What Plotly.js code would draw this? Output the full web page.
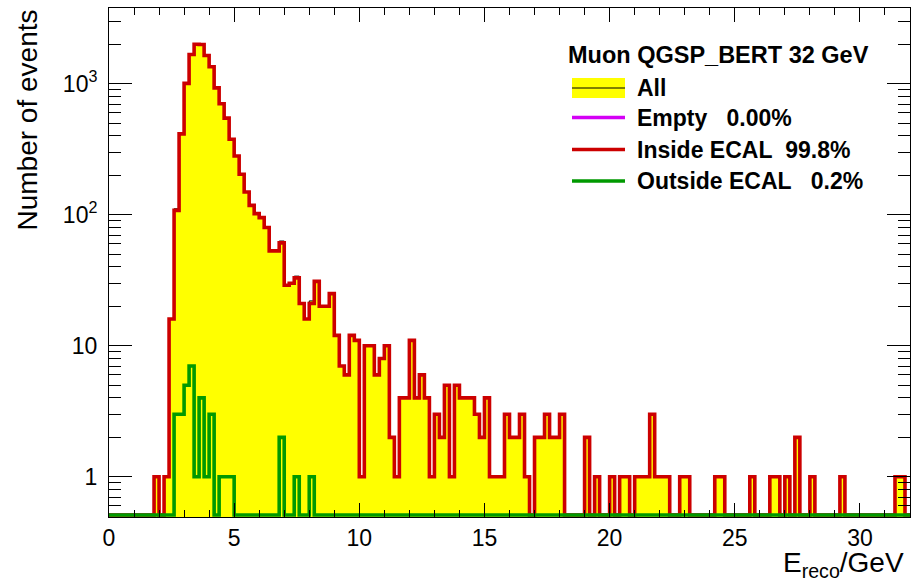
<!DOCTYPE html>
<html>
<head>
<meta charset="utf-8">
<title>Muon QGSP_BERT 32 GeV - reconstructed energy</title>
<script src="https://cdn.plot.ly/plotly-3.0.1.min.js"></script>
<style>
  html, body { margin: 0; padding: 0; background: #ffffff; }
  #chart { width: 913px; height: 582px; }
</style>
</head>
<body>
<div id="chart"></div>
<script>
// Histogram binning: 160 bins of 0.2 GeV between 0 and 32 GeV
const binWidth = 0.2;
const nBins = 160;

// Events per bin, reconstructed inside the ECAL
const insideEcal = [
  0, 0, 0, 0, 0, 0, 0, 0, 0, 1, 0, 1, 16, 108, 414, 1006, 1672, 2000, 1990, 1643,
  1346, 929, 703, 546, 377, 281, 204, 149, 118, 102, 95, 80, 53, 53, 61, 29, 30, 33, 21, 16,
  21, 31, 20, 20, 25, 12, 7, 6, 12, 11, 1, 10, 10, 6, 8, 10, 2, 1, 4, 4,
  11, 4, 6, 4, 1, 3, 2, 5, 1, 5, 4, 4, 4, 3, 2, 4, 1, 1, 1, 3,
  2, 2, 3, 1, 0, 2, 2, 3, 2, 2, 3, 0, 0, 0, 0, 2, 0, 1, 0, 0,
  1, 0, 1, 1, 0, 1, 1, 1, 3, 1, 1, 1, 0, 0, 1, 1, 0, 0, 0, 0,
  0, 1, 1, 0, 0, 0, 0, 0, 1, 0, 0, 0, 1, 1, 0, 1, 0, 2, 0, 0,
  1, 0, 0, 0, 0, 0, 1, 0, 0, 0, 0, 0, 0, 0, 0, 0, 0, 1, 1, 0
];

// Events per bin, reconstructed outside the ECAL
const outsideEcal = [
  0, 0, 0, 0, 0, 0, 0, 0, 0, 0, 0, 0, 0, 3, 3, 5, 7, 1, 4, 1,
  3, 0, 1, 1, 1, 0, 0, 0, 0, 0, 0, 0, 0, 0, 2, 0, 0, 1, 0, 0,
  1, 0, 0, 0, 0, 0, 0, 0, 0, 0, 0, 0, 0, 0, 0, 0, 0, 0, 0, 0,
  0, 0, 0, 0, 0, 0, 0, 0, 0, 0, 0, 0, 0, 0, 0, 0, 0, 0, 0, 0,
  0, 0, 0, 0, 0, 0, 0, 0, 0, 0, 0, 0, 0, 0, 0, 0, 0, 0, 0, 0,
  0, 0, 0, 0, 0, 0, 0, 0, 0, 0, 0, 0, 0, 0, 0, 0, 0, 0, 0, 0,
  0, 0, 0, 0, 0, 0, 0, 0, 0, 0, 0, 0, 0, 0, 0, 0, 0, 0, 0, 0,
  0, 0, 0, 0, 0, 0, 0, 0, 0, 0, 0, 0, 0, 0, 0, 0, 0, 0, 0, 0
];

// Events per bin with an empty reconstruction
const emptyEvents = [
  0, 0, 0, 0, 0, 0, 0, 0, 0, 0, 0, 0, 0, 0, 0, 0, 0, 0, 0, 0,
  0, 0, 0, 0, 0, 0, 0, 0, 0, 0, 0, 0, 0, 0, 0, 0, 0, 0, 0, 0,
  0, 0, 0, 0, 0, 0, 0, 0, 0, 0, 0, 0, 0, 0, 0, 0, 0, 0, 0, 0,
  0, 0, 0, 0, 0, 0, 0, 0, 0, 0, 0, 0, 0, 0, 0, 0, 0, 0, 0, 0,
  0, 0, 0, 0, 0, 0, 0, 0, 0, 0, 0, 0, 0, 0, 0, 0, 0, 0, 0, 0,
  0, 0, 0, 0, 0, 0, 0, 0, 0, 0, 0, 0, 0, 0, 0, 0, 0, 0, 0, 0,
  0, 0, 0, 0, 0, 0, 0, 0, 0, 0, 0, 0, 0, 0, 0, 0, 0, 0, 0, 0,
  0, 0, 0, 0, 0, 0, 0, 0, 0, 0, 0, 0, 0, 0, 0, 0, 0, 0, 0, 0
];

// All events per bin
const allEvents = [
  0, 0, 0, 0, 0, 0, 0, 0, 0, 1, 0, 1, 16, 111, 417, 1011, 1679, 2001, 1994, 1644,
  1349, 929, 704, 547, 378, 281, 204, 149, 118, 102, 95, 80, 53, 53, 63, 29, 30, 34, 21, 16,
  22, 31, 20, 20, 25, 12, 7, 6, 12, 11, 1, 10, 10, 6, 8, 10, 2, 1, 4, 4,
  11, 4, 6, 4, 1, 3, 2, 5, 1, 5, 4, 4, 4, 3, 2, 4, 1, 1, 1, 3,
  2, 2, 3, 1, 0, 2, 2, 3, 2, 2, 3, 0, 0, 0, 0, 2, 0, 1, 0, 0,
  1, 0, 1, 1, 0, 1, 1, 1, 3, 1, 1, 1, 0, 0, 1, 1, 0, 0, 0, 0,
  0, 1, 1, 0, 0, 0, 0, 0, 1, 0, 0, 0, 1, 1, 0, 1, 0, 2, 0, 0,
  1, 0, 0, 0, 0, 0, 1, 0, 0, 0, 0, 0, 0, 0, 0, 0, 0, 1, 1, 0
];

// Axis ticks and labels
const yTickVals = [1, 10, 100, 1000];
const yTickText = ['1', '10', '10<sup>2</sup>', '10<sup>3</sup>'];

// Legend texts
const legendTitle = 'Muon QGSP_BERT 32 GeV';
const legendLabels = ['All', 'Empty\u00a0\u00a0\u00a00.00%', 'Inside ECAL\u00a0\u00a099.8%', 'Outside ECAL\u00a0\u00a0\u00a00.2%'];

// ---------------------------------------------------------------------------
const FONT = 'Liberation Sans, Arial, Helvetica, sans-serif';
const W = 913, H = 582;
const M = { l: 109, r: 3, t: 8, b: 65 };
const plotW = W - M.l - M.r, plotH = H - M.t - M.b;
const yRange = [-0.307, 3.578];
const LW = 3.6; // histogram outline width
// empty bins sit on the floor of the log axis, just above the frame
const emptyLevel = Math.pow(10, yRange[0] + 2 * (yRange[1] - yRange[0]) / plotH);

const px2x = px => (px - M.l) / plotW;   // pixel -> paper x
const py2y = py => (H - M.b - py) / plotH; // pixel -> paper y

const edges = [];
for (let i = 0; i <= nBins; i++) edges.push(+(i * binWidth).toFixed(2));

// step outline of a histogram: one point per bin edge
function stepY(counts) {
  const y = counts.map(c => (c > 0 ? c : emptyLevel));
  y.push(y[y.length - 1]);
  return y;
}

const COL = { all: '#ffff00', empty: '#d400f5', inside: '#cc0000', outside: '#009900' };

// drawing order: empty, all (filled), inside, outside
const traces = [
  {
    x: edges, y: stepY(emptyEvents), type: 'scatter', mode: 'lines',
    line: { shape: 'hv', color: COL.empty, width: LW }, hoverinfo: 'skip', name: 'Empty'
  },
  {
    x: edges, y: stepY(allEvents), type: 'scatter', mode: 'lines',
    line: { shape: 'hv', color: '#000000', width: 1 },
    fill: 'tozeroy', fillcolor: COL.all, hoverinfo: 'skip', name: 'All'
  },
  {
    x: edges, y: stepY(insideEcal), type: 'scatter', mode: 'lines',
    line: { shape: 'hv', color: COL.inside, width: LW }, hoverinfo: 'skip', name: 'Inside ECAL'
  },
  {
    x: edges, y: stepY(outsideEcal), type: 'scatter', mode: 'lines',
    line: { shape: 'hv', color: COL.outside, width: LW }, hoverinfo: 'skip', name: 'Outside ECAL'
  }
];

// minor ticks of the log axis: 2..9 in each decade
const yMinor = [];
for (let d = 0.1; d <= 1000; d *= 10) {
  for (let k = 2; k <= 9; k++) {
    const v = +(k * d).toPrecision(3);
    if (Math.log10(v) < yRange[1]) yMinor.push(v);
  }
}

// hand-drawn legend in ROOT style
const legX0 = 572, legX1 = 625, legTextX = 637;
const legRows = [88, 117.5, 149.5, 181];
const legendColors = [null, COL.empty, COL.inside, COL.outside];

const shapes = [];
shapes.push({
  type: 'rect', xref: 'paper', yref: 'paper',
  x0: px2x(legX0), x1: px2x(legX1), y0: py2y(legRows[0] - 10), y1: py2y(legRows[0] + 10),
  fillcolor: COL.all, line: { width: 0 }
});
shapes.push({
  type: 'line', xref: 'paper', yref: 'paper',
  x0: px2x(legX0), x1: px2x(legX1), y0: py2y(legRows[0]), y1: py2y(legRows[0]),
  line: { color: '#000000', width: 1 }
});
for (let i = 1; i < legRows.length; i++) {
  shapes.push({
    type: 'line', xref: 'paper', yref: 'paper',
    x0: px2x(legX0), x1: px2x(legX1), y0: py2y(legRows[i]), y1: py2y(legRows[i]),
    line: { color: legendColors[i], width: 3.4 }
  });
}

const legendFont = { family: FONT, size: 23, color: '#000000', weight: 'bold' };
const annotations = [
  {
    xref: 'paper', yref: 'paper', x: px2x(566), y: py2y(55),
    xanchor: 'left', yanchor: 'middle', showarrow: false,
    text: legendTitle, font: Object.assign({}, legendFont, { size: 23.5 })
  }
];
legendLabels.forEach((t, i) => {
  annotations.push({
    xref: 'paper', yref: 'paper', x: px2x(legTextX - 2), y: py2y(legRows[i]),
    xanchor: 'left', yanchor: 'middle', showarrow: false,
    text: t, font: legendFont
  });
});

// axis titles, aligned to the axis ends
annotations.push({
  xref: 'paper', yref: 'paper', x: 1, y: 0, xanchor: 'right', yanchor: 'top',
  xshift: -4, yshift: -28, showarrow: false,
  text: 'E<sub>reco</sub>/GeV', font: { family: FONT, size: 28, color: '#000000' }
});
annotations.push({
  xref: 'paper', yref: 'paper', x: px2x(27), y: 1, xanchor: 'center', yanchor: 'top',
  textangle: -90, showarrow: false,
  text: 'Number of events', font: { family: FONT, size: 28, color: '#000000' }
});

const axisCommon = {
  showgrid: false, zeroline: false, showline: true, linecolor: '#000000', linewidth: 1,
  mirror: 'allticks', ticks: 'inside', tickcolor: '#000000', tickwidth: 1,
  tickfont: { family: FONT, size: 23, color: '#000000' }
};

const layout = {
  width: W, height: H,
  margin: { l: M.l, r: M.r, t: M.t, b: M.b, pad: 0 },
  paper_bgcolor: '#ffffff', plot_bgcolor: '#ffffff',
  showlegend: false,
  xaxis: Object.assign({}, axisCommon, {
    range: [0, nBins * binWidth], tickmode: 'linear', tick0: 0, dtick: 5, ticklen: 14,
    minor: { tickmode: 'linear', tick0: 0, dtick: 1, ticks: 'inside', ticklen: 7, tickcolor: '#000000', tickwidth: 1, showgrid: false }
  }),
  yaxis: Object.assign({}, axisCommon, {
    type: 'log', range: yRange, tickmode: 'array', tickvals: yTickVals, ticktext: yTickText,
    ticklen: 23, ticklabelstandoff: 6,
    minor: { tickmode: 'array', tickvals: yMinor, ticks: 'inside', ticklen: 12, tickcolor: '#000000', tickwidth: 1, showgrid: false }
  }),
  shapes: shapes,
  annotations: annotations
};

Plotly.newPlot('chart', traces, layout, { staticPlot: true, displayModeBar: false });
</script>
</body>
</html>
